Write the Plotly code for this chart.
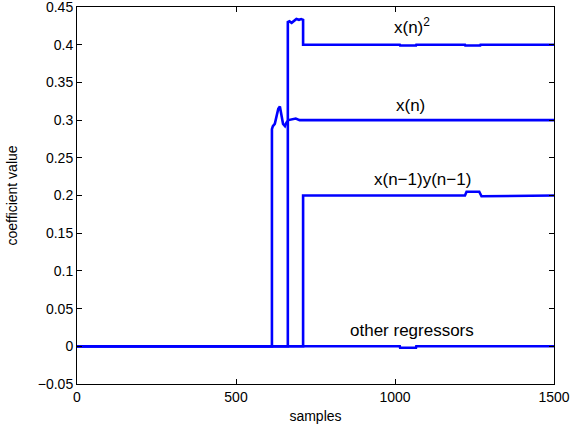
import plotly.graph_objects as go

# ---- data ----
samples_x = [0, 613, 613, 616, 622, 628, 633, 638, 643, 648, 654, 659, 665, 675, 688, 700, 1500]
coef_x = [0.0, 0.0, 0.288, 0.292, 0.295, 0.305, 0.315, 0.318, 0.306, 0.295, 0.292, 0.297, 0.300, 0.301, 0.302, 0.300, 0.300]

samples_x2 = [0, 663, 663, 668, 675, 682, 690, 698, 705, 711, 711, 1015, 1016, 1066, 1067, 1220, 1221, 1268, 1269, 1500]
coef_x2 = [0.0, 0.0, 0.430, 0.431, 0.429, 0.432, 0.434, 0.433, 0.434, 0.433, 0.400,
           0.400, 0.399, 0.399, 0.400, 0.400, 0.399, 0.399, 0.400, 0.400]

samples_xy = [0, 711, 711, 1015, 1025, 1060, 1070, 1220, 1225, 1265, 1272, 1290, 1320, 1500]
coef_xy = [0.0, 0.0, 0.200, 0.200, 0.201, 0.201, 0.200, 0.200, 0.205, 0.205, 0.199, 0.199, 0.200, 0.200]

samples_other = [0, 1015, 1016, 1066, 1067, 1220, 1221, 1268, 1269, 1500]
coef_other = [0.0, 0.0, -0.002, -0.002, 0.0, 0.0, 0.001, 0.001, 0.0, 0.0]

labels = ["x(n)<sup>2</sup>", "x(n)", "x(n\u22121)y(n\u22121)", "other regressors"]
label_x = [1052, 1050, 1088, 1055]
label_y = [0.425, 0.320, 0.2206, 0.0216]

x_ticks = [0, 500, 1000, 1500]
y_ticks = [-0.05, 0, 0.05, 0.1, 0.15, 0.2, 0.25, 0.3, 0.35, 0.4, 0.45]
y_tick_labels = ["\u22120.05", "0", "0.05", "0.1", "0.15", "0.2", "0.25", "0.3", "0.35", "0.4", "0.45"]

# ---- figure ----
fig = go.Figure()
line_style = dict(color="#0000FF", width=2.6)
for xs, ys in [(samples_other, coef_other), (samples_xy, coef_xy), (samples_x, coef_x), (samples_x2, coef_x2)]:
    fig.add_trace(go.Scatter(x=xs, y=ys, mode="lines", line=line_style, showlegend=False, hoverinfo="skip"))

for t, xv, yv in zip(labels, label_x, label_y):
    fig.add_annotation(x=xv, y=yv, text=t, showarrow=False, xanchor="center", yanchor="middle",
                       font=dict(size=17, color="black"))

font_family = "Liberation Sans, Arial, Helvetica, sans-serif"
fig.update_layout(
    width=585, height=430,
    margin=dict(l=77, r=31, t=7, b=46),
    paper_bgcolor="white", plot_bgcolor="white",
    font=dict(family=font_family, size=14, color="black"),
    xaxis=dict(range=[0, 1500], tickvals=x_ticks, ticks="inside", ticklen=5, tickcolor="black",
               showline=True, linecolor="black", linewidth=1, mirror="ticks", showgrid=False, zeroline=False,
               ticklabeloverflow="allow", automargin=False,
               title=dict(text="samples", standoff=7, font=dict(size=14))),
    yaxis=dict(range=[-0.05, 0.4500001], tickvals=y_ticks, ticktext=y_tick_labels, ticks="inside", ticklen=5,
               tickcolor="black", ticklabeloverflow="allow", automargin=False,
               showline=True, linecolor="black", linewidth=1, mirror="ticks", showgrid=False, zeroline=False,
               title=dict(text="coefficient value", standoff=16, font=dict(size=14))),
)

fig.write_html("out.html", config={"displayModeBar": False},
               post_script="document.body.style.margin='0px';")
